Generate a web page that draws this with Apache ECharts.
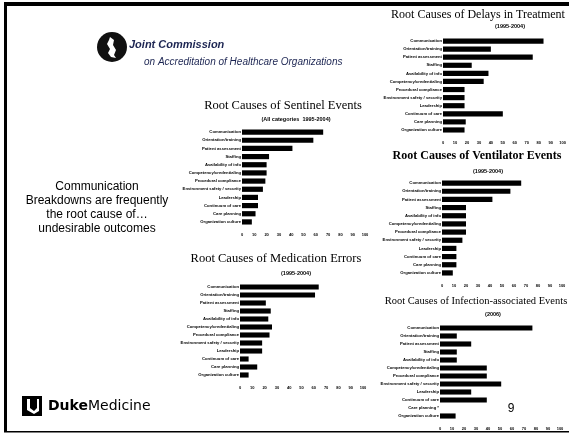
<!DOCTYPE html>
<html><head><meta charset="utf-8">
<script src="https://cdn.jsdelivr.net/npm/echarts@6/dist/echarts.min.js"></script>
<style>html,body{margin:0;padding:0;background:#fff}#c{width:569px;height:435px}</style>
</head><body><div id="c"></div>
<script>
var categories = ['Communication','Orientation/training','Patient assessment','Staffing','Availability of info','Competency/credentialing','Procedural compliance','Environment safety / security','Leadership','Continuum of care','Care planning','Organization culture'];
var infectionCategories = ['Communication','Orientation/training','Patient assessment','Staffing','Availability of info','Competency/credentialing','Procedural compliance','Environment safety / security','Leadership','Continuum of care','Care planning *','Organization culture'];
var sentinelValues   = [66,58,41,22,20,20,19,17,13,13,11,8];
var medicationValues = [64,61,21,25,23,26,24,18,18,7,14,7];
var delaysValues     = [84,40,75,24,38,34,18,18,18,50,19,18];
var ventilatorValues = [66,57,42,20,20,20,20,17,12,12,12,9];
var infectionValues  = [77,14,26,14,14,39,39,51,26,39,0,13];
var xMin = 0, xMax = 100, xStep = 10;

var panels = [
  {cats: categories, vals: sentinelValues, left: 242, top: 128, width: 123, height: 98,
   title: 'Root Causes of Sentinel Events', tx: 283, ty: 106, tf: '12.5px', sub: '(All categories  1995-2004)', sx: 296, sy: 119, bold: false},
  {cats: categories, vals: medicationValues, left: 240, top: 283, width: 123, height: 96,
   title: 'Root Causes of Medication Errors', tx: 276, ty: 259, tf: '12.5px', sub: '(1995-2004)', sx: 296, sy: 273, bold: false},
  {cats: categories, vals: delaysValues, left: 443, top: 37, width: 124, height: 97,
   title: 'Root Causes of Delays in Treatment', tx: 478, ty: 15, tf: '12px', sub: '(1995-2004)', sx: 510, sy: 26, bold: false},
  {cats: categories, vals: ventilatorValues, left: 442, top: 179, width: 120, height: 98,
   title: 'Root Causes of Ventilator Events', tx: 477, ty: 156, tf: '12px', sub: '(1995-2004)', sx: 488, sy: 171, bold: true},
  {cats: infectionCategories, vals: infectionValues, left: 440, top: 324, width: 120, height: 96,
   title: 'Root Causes of Infection-associated Events', tx: 476, ty: 301, tf: '10.5px', sub: '(2006)', sx: 493, sy: 314, bold: false}
];

var grids = [], xAxes = [], yAxes = [], series = [], graphics = [];
panels.forEach(function (p, i) {
  grids.push({left: p.left, top: p.top, width: p.width, height: p.height});
  xAxes.push({type: 'value', gridIndex: i, min: xMin, max: xMax, interval: xStep,
    axisLine: {show: false}, axisTick: {show: false}, splitLine: {show: false},
    axisLabel: {fontSize: 4, fontWeight: 'bold', color: '#000', margin: 7, fontFamily: 'Liberation Sans'}});
  yAxes.push({type: 'category', gridIndex: i, data: p.cats, inverse: true,
    axisLine: {show: false}, axisTick: {show: false},
    axisLabel: {fontSize: 4.2, fontWeight: 'bold', color: '#000', margin: 1, fontFamily: 'Liberation Sans'}});
  series.push({type: 'bar', xAxisIndex: i, yAxisIndex: i, data: p.vals, barCategoryGap: '36%',
    itemStyle: {color: '#000'}, silent: true});
  graphics.push({type: 'text', x: p.tx, y: p.ty, style: {text: p.title, x: 0, y: 0,
    font: (p.bold ? 'bold ' : '') + p.tf + ' "Liberation Serif"', fill: '#000', align: 'center', verticalAlign: 'middle'}});
  graphics.push({type: 'text', x: p.sx, y: p.sy, style: {text: p.sub, x: 0, y: 0,
    font: 'bold 5.5px "Liberation Sans"', fill: '#000', align: 'center', verticalAlign: 'middle'}});
});

// slide frame
graphics.push({type: 'rect', shape: {x: 4, y: 2, width: 565, height: 4}, style: {fill: '#000'}});
graphics.push({type: 'rect', shape: {x: 4, y: 2, width: 3, height: 430}, style: {fill: '#000'}});
graphics.push({type: 'rect', shape: {x: 4, y: 431, width: 565, height: 1.5}, style: {fill: '#000'}});
// Joint Commission logo
graphics.push({type: 'circle', shape: {cx: 112, cy: 47, r: 15}, style: {fill: '#111'}});
graphics.push({type: 'polygon', shape: {points: [[110,37],[114,40],[113,45],[116,50],[114,55],[116,58],[111,57],[108,53],[110,49],[107,44],[109,40]]}, style: {fill: '#fff'}});
graphics.push({type: 'text', x: 129, y: 45, style: {text: 'Joint Commission', font: 'italic bold 11px "Liberation Sans"', fill: '#1c2552', verticalAlign: 'middle'}});
graphics.push({type: 'text', x: 144, y: 62, style: {text: 'on Accreditation of Healthcare Organizations', font: 'italic 10px "Liberation Sans"', fill: '#1c2552', verticalAlign: 'middle'}});
// left text
graphics.push({type: 'text', x: 97, y: 208, style: {text: 'Communication\nBreakdowns are frequently\nthe root cause of…\nundesirable outcomes',
  font: '12px "Liberation Sans"', lineHeight: 14, fill: '#000', align: 'center', verticalAlign: 'middle'}});
// Duke logo
graphics.push({type: 'rect', shape: {x: 22, y: 396, width: 20, height: 20}, style: {fill: '#000'}});
graphics.push({type: 'polygon', shape: {points: [[27,399],[30,399],[30,408],[34,411],[37,408],[37,399],[39,399],[39,411],[34,414],[27,410]]}, style: {fill: '#fff'}});
graphics.push({type: 'text', x: 48, y: 406, style: {rich: {a: {font: 'bold 14px "DejaVu Sans"', fill: '#000'}, b: {font: '14px "DejaVu Sans"', fill: '#000'}}, text: '{a|Duke}{b|Medicine}', verticalAlign: 'middle'}});
// page number
graphics.push({type: 'text', x: 511, y: 409, style: {text: '9', font: '12px "Liberation Sans"', fill: '#000', align: 'center', verticalAlign: 'middle'}});

var chart = echarts.init(document.getElementById('c'), null, {renderer: 'canvas'});
chart.setOption({
  backgroundColor: '#fff',
  animation: false,
  grid: grids, xAxis: xAxes, yAxis: yAxes, series: series, graphic: graphics
});
</script></body></html>
